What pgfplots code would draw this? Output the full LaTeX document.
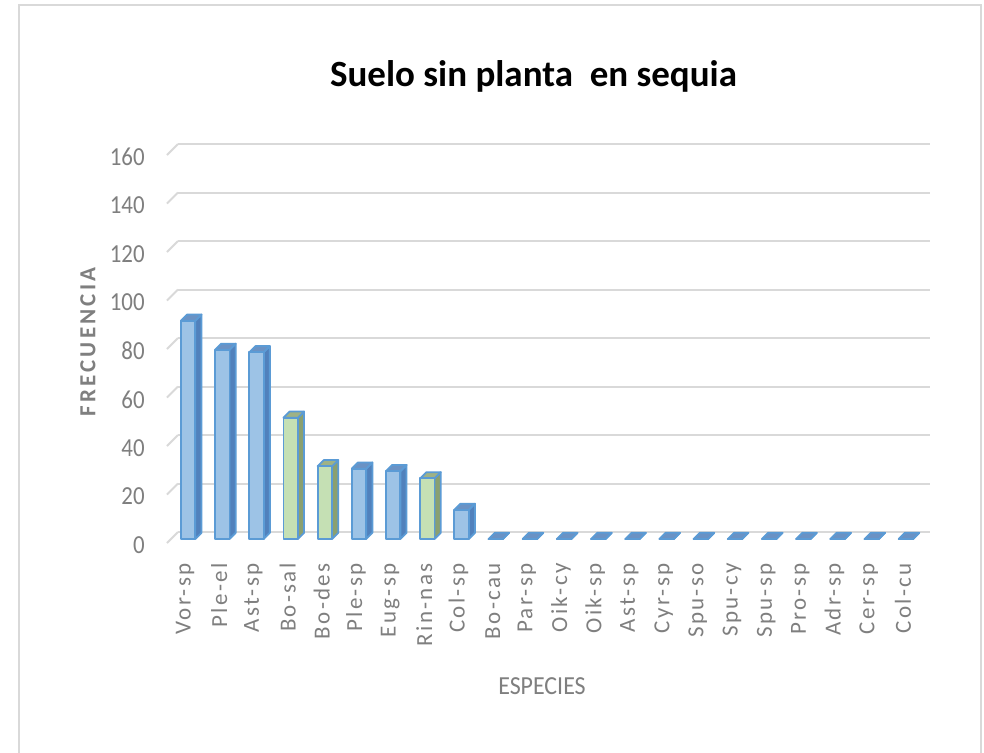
\documentclass[border=0pt]{standalone}
\usepackage{fontspec}
\setmainfont{Carlito}
\newfontfamily\spaced[LetterSpace=10]{Carlito}
\newfontfamily\spacedb[LetterSpace=14]{Carlito}
\usepackage{graphicx}
\usepackage{pgfplots}
\usepackage{pgfplotstable}
\pgfplotsset{compat=1.18}

\definecolor{gridgray}{HTML}{D9D9D9}
\definecolor{framegray}{HTML}{D9D9D9}
\definecolor{txtgray}{HTML}{7F7F7F}
\definecolor{edgeblue}{HTML}{5B9BD5}
\definecolor{blueface}{HTML}{9DC3E6}
\definecolor{blueside}{HTML}{5181BC}
\definecolor{bluetop}{HTML}{6A92C4}
\definecolor{greenface}{HTML}{C5E0B4}
\definecolor{greenside}{HTML}{8AA070}
\definecolor{greentop}{HTML}{9FB286}

% 3D column geometry (pt): front/back offsets in depth, half width, pt per unit
\def\fs{3.5}
\def\bs{0.4}
\def\hw{3.6}
\def\unitv{1.2125}

% a column drawn as a prism hanging below its data point
\newcommand\defprism[4]{%
  \pgfdeclareplotmark{#1}{%
    \pgfmathsetmacro\hh{\barval*\unitv}%
    \pgfmathsetmacro\xa{-\fs-\hw}\pgfmathsetmacro\xb{-\fs+\hw}%
    \pgfmathsetmacro\xc{-\bs+\hw}\pgfmathsetmacro\xd{-\bs-\hw}%
    \pgfmathsetmacro\ya{-\fs}\pgfmathsetmacro\yb{-\fs-\hh}%
    \pgfmathsetmacro\yc{-\bs}\pgfmathsetmacro\yd{-\bs-\hh}%
    \pgfsetlinewidth{0.9pt}\pgfsetroundjoin
    \pgfsetstrokecolor{edgeblue}%
    % side face
    \pgfsetfillcolor{#3}%
    \pgfpathmoveto{\pgfpoint{\xb pt}{\ya pt}}%
    \pgfpathlineto{\pgfpoint{\xc pt}{\yc pt}}%
    \pgfpathlineto{\pgfpoint{\xc pt}{\yd pt}}%
    \pgfpathlineto{\pgfpoint{\xb pt}{\yb pt}}%
    \pgfpathclose\pgfusepath{fill,stroke}%
    % top face
    \pgfsetfillcolor{#4}%
    \pgfpathmoveto{\pgfpoint{\xa pt}{\ya pt}}%
    \pgfpathlineto{\pgfpoint{\xb pt}{\ya pt}}%
    \pgfpathlineto{\pgfpoint{\xc pt}{\yc pt}}%
    \pgfpathlineto{\pgfpoint{\xd pt}{\yc pt}}%
    \pgfpathclose\pgfusepath{fill,stroke}%
    % front face
    \pgfsetfillcolor{#2}%
    \pgfpathrectanglecorners{\pgfpoint{\xa pt}{\yb pt}}{\pgfpoint{\xb pt}{\ya pt}}%
    \pgfusepath{fill,stroke}%
  }}
\defprism{prismblue}{blueface}{blueside}{bluetop}
\defprism{prismgreen}{greenface}{greenside}{greentop}

% frequency per species (x = position along the axis)
\pgfplotstableread{
x y
0 90
1 78
2 77
5 29
6 28
8 12
9 0
10 0
11 0
12 0
13 0
14 0
15 0
16 0
17 0
18 0
19 0
20 0
21 0
}\bluedata
\pgfplotstableread{
x y
3 50
4 30
7 25
}\greendata

\begin{document}
\begin{tikzpicture}
\path[use as bounding box] (0,0) rectangle (492pt,376pt);
\fill[white] (0,0) rectangle (492pt,376pt);
\begin{scope}
\clip (0,0) rectangle (492pt,376pt);
\draw[framegray, line width=1pt] (9.5pt,-2pt) -- (9.5pt,373.5pt) -- (490.5pt,373.5pt) -- (490.5pt,-2pt);
\end{scope}

\node[anchor=base, font=\fontsize{18.5}{20}\selectfont\bfseries] at (266.75pt,332.6pt) {Suelo sin planta~ en sequia};
\node[rotate=90, text=txtgray, font=\fontsize{11.5}{12}\selectfont\bfseries\spacedb] at (44pt,205pt) {FRECUENCIA};
\node[text=txtgray, font=\fontsize{13}{14}\selectfont] at (271pt,33pt) {\scalebox{0.92}[1]{ESPECIES}};

\begin{axis}[
  at={(89pt,110pt)}, anchor=south west,
  scale only axis, width=376pt, height=194pt,
  xmin=-0.5, xmax=21.5, ymin=0, ymax=160,
  ytick={0,20,...,160},
  xtick={0,...,21},
  xticklabels={Vor-sp,Ple-el,Ast-sp,Bo-sal,Bo-des,Ple-sp,Eug-sp,Rin-nas,Col-sp,Bo-cau,Par-sp,Oik-cy,Oik-sp,Ast-sp,Cyr-sp,Spu-so,Spu-cy,Spu-sp,Pro-sp,Adr-sp,Cer-sp,Col-cu},
  ymajorgrids, grid style={gridgray, line width=1pt},
  axis line style={draw=none}, major tick length=0pt,
  clip=false,
  /pgf/number format/assume math mode=true,
  yticklabel={\scalebox{0.88}[1]{\pgfmathprintnumber{\tick}}},
  yticklabel style={anchor=east, inner sep=0pt, xshift=-16.5pt, yshift=-6.5pt,
    text=txtgray, font=\fontsize{13}{14}\selectfont},
  xticklabel style={xshift=-5pt, yshift=-15.5pt, rotate=90, anchor=east, inner sep=0pt,
    text=txtgray, font=\fontsize{11.5}{12}\selectfont\spaced},
  visualization depends on={rawy \as \barval},
]
\pgfplotsinvokeforeach{0,20,...,160}{
  \draw[gridgray, line width=1pt] (axis cs:-0.5,#1) -- ++(-5.5pt,-5.5pt);
}
\addplot[only marks, mark=prismblue] table[x=x, y=y] {\bluedata};
\addplot[only marks, mark=prismgreen] table[x=x, y=y] {\greendata};
\end{axis}
\end{tikzpicture}
\end{document}
